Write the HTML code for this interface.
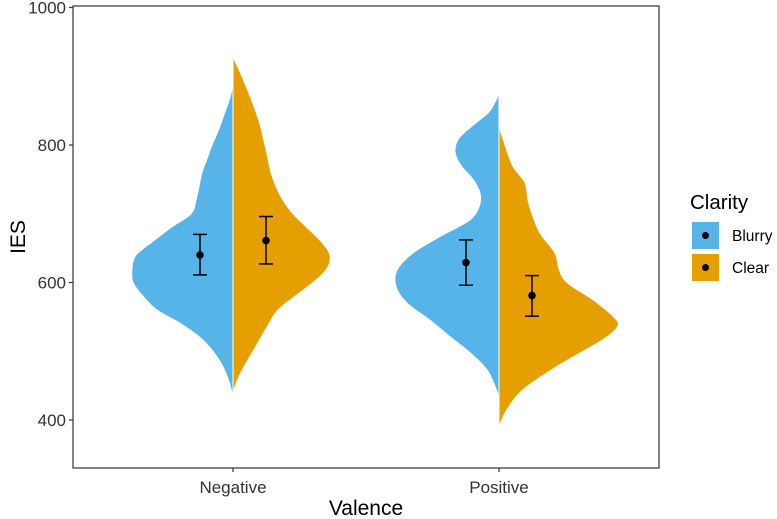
<!DOCTYPE html>
<html><head><meta charset="utf-8"><style>
body{margin:0;background:#fff}
svg{display:block;font-family:"Liberation Sans",Arial,sans-serif}
</style></head><body>
<svg id="chart" width="777" height="519" viewBox="0 0 777 519"></svg>
<script>
const categories=["Negative","Positive"];
const groups=["Blurry","Clear"];
const yTicks=[400,600,800,1000];
// density profiles: [IES value, half-width density]
const negBlurry=[[435,0],[440,0.01],[460,0.05],[480,0.11],[500,0.2],[520,0.33],[540,0.52],[560,0.76],[580,0.9],[600,1.0],[620,1.01],[640,0.97],[660,0.8],[680,0.62],[700,0.42],[720,0.37],[740,0.34],[760,0.31],[780,0.26],[800,0.21],[820,0.15],[840,0.1],[860,0.05],[875,0.02],[890,0]];
const negClear=[[440,0],[460,0.05],[480,0.12],[500,0.2],[520,0.28],[540,0.36],[560,0.45],[580,0.62],[600,0.8],[620,0.94],[640,0.97],[660,0.88],[680,0.74],[700,0.6],[720,0.5],[740,0.43],[760,0.38],[780,0.35],[800,0.32],[830,0.27],[860,0.2],[900,0.09],[928,0]];
const posBlurry=[[432,0],[449,0.04],[473,0.12],[498,0.29],[521,0.49],[545,0.69],[570,0.92],[594,1.03],[618,1.02],[643,0.86],[667,0.59],[690,0.3],[710,0.2],[730,0.19],[750,0.26],[770,0.38],[790,0.44],[810,0.4],[830,0.25],[850,0.09],[875,0]];
const posClear=[[390,0],[415,0.08],[444,0.24],[478,0.58],[517,1.04],[537,1.19],[551,1.14],[575,0.94],[600,0.68],[620,0.6],[643,0.56],[672,0.41],[700,0.33],[720,0.29],[745,0.26],[769,0.14],[800,0.06],[828,0]];
const means=[[640,661],[629,581]];
const lows=[[611,627],[596,551]];
const highs=[[670,696],[662,610]];

const NS="http://www.w3.org/2000/svg";
const svg=document.getElementById("chart");
const L=73,R=659,T=6,B=468;
const yS=v=>282.5-(v-600)*0.6875;
const xS=i=>233+i*266;
const wS=d=>d*100;
const colors=["#56B4E9","#E69F00"];
function el(t,a,p){const e=document.createElementNS(NS,t);for(const k in a)e.setAttribute(k,a[k]);(p||svg).appendChild(e);return e;}
function txt(s,a){const e=el("text",a);e.textContent=s;return e;}
function smooth(pts){let d="M"+pts[0][0]+","+pts[0][1];for(let i=0;i<pts.length-1;i++){const p0=pts[Math.max(0,i-1)],p1=pts[i],p2=pts[i+1],p3=pts[Math.min(pts.length-1,i+2)];const c1=[p1[0]+(p2[0]-p0[0])/6,p1[1]+(p2[1]-p0[1])/6],c2=[p2[0]-(p3[0]-p1[0])/6,p2[1]-(p3[1]-p1[1])/6];d+=`C${c1[0]},${c1[1]} ${c2[0]},${c2[1]} ${p2[0]},${p2[1]}`;}return d;}
const profiles=[[negBlurry,negClear],[posBlurry,posClear]];
profiles.forEach((pair,ci)=>{pair.forEach((prof,gi)=>{
  const cx=xS(ci),s=gi===0?-1:1;
  const pts=prof.map(p=>[cx+s*wS(p[1]),yS(p[0])]);
  const d=smooth(pts)+`L${cx},${yS(prof[prof.length-1][0])}L${cx},${yS(prof[0][0])}Z`;
  const v=el("path",{d:d,fill:colors[gi],stroke:"#fff","stroke-width":1});
  
  
});});
means.forEach((row,ci)=>{row.forEach((m,gi)=>{
  const x=xS(ci)+(gi===0?-33:33);
  const g=el("g",{stroke:"#000","stroke-width":1.5});
  
  
  el("line",{x1:x,x2:x,y1:yS(lows[ci][gi]),y2:yS(highs[ci][gi])},g);
  el("line",{x1:x-7,x2:x+7,y1:yS(lows[ci][gi]),y2:yS(lows[ci][gi])},g);
  el("line",{x1:x-7,x2:x+7,y1:yS(highs[ci][gi]),y2:yS(highs[ci][gi])},g);
  const c=el("circle",{cx:x,cy:yS(m),r:3.8,fill:"#000"});
  
  
});});
const frame=el("rect",{x:L,y:T,width:R-L,height:B-T,fill:"none",stroke:"#333","stroke-width":1.2});


yTicks.forEach(v=>{
  el("line",{x1:L-4,x2:L,y1:yS(v),y2:yS(v),stroke:"#333","stroke-width":1.2});
  const t=txt(v,{x:L-7,y:yS(v)+6,"text-anchor":"end","font-size":17,fill:"#333"});
  
  
});
categories.forEach((c,i)=>{
  el("line",{x1:xS(i),x2:xS(i),y1:B,y2:B+4,stroke:"#333","stroke-width":1.2});
  const t=txt(c,{x:xS(i),y:B+25,"text-anchor":"middle","font-size":17,fill:"#333"});
  
  
});
</script>
<script>
(function(){
const svg=document.getElementById("chart");
svg.insertAdjacentHTML("beforeend",`
<text x="0" y="0" transform="translate(25,237) rotate(-90)" text-anchor="middle" font-size="21" fill="#000">IES</text>
<text x="366" y="515" text-anchor="middle" font-size="21" fill="#000">Valence</text>
<g>
<text x="690" y="209" font-size="20.5" fill="#000">Clarity</text>
<rect x="692" y="222" width="27" height="27" fill="#56B4E9"/>
<circle cx="705.5" cy="235.5" r="3.5" fill="#000"/>
<rect x="692" y="254" width="27" height="27" fill="#E69F00"/>
<circle cx="705.5" cy="267.5" r="3.5" fill="#000"/>
<text x="732" y="241" font-size="15.5" fill="#000">Blurry</text>
<text x="732" y="273" font-size="15.5" fill="#000">Clear</text>
</g>`);
})();
</script>
</body></html>
